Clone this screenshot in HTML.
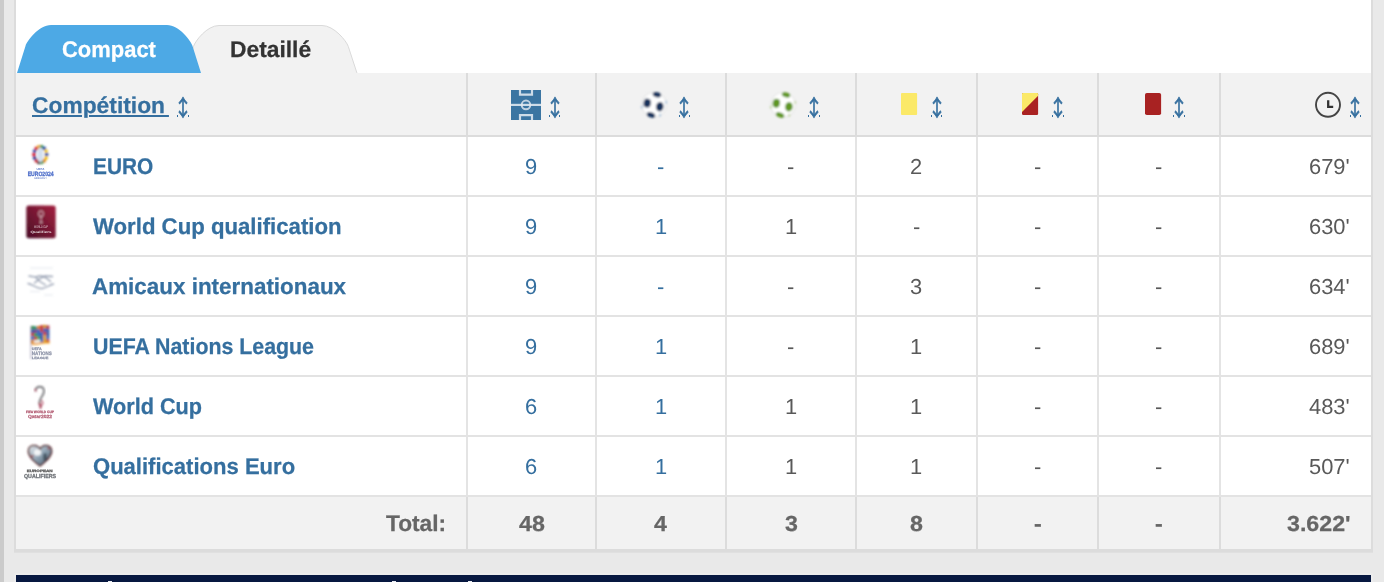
<!DOCTYPE html>
<html lang="fr"><head><meta charset="utf-8"><title>Bilan par compétition</title>
<style>
html,body{margin:0;padding:0}
body{width:1384px;height:582px;overflow:hidden;position:relative;background:#e9e9e9;font-family:"Liberation Sans",sans-serif;text-rendering:geometricPrecision;}
.abs{position:absolute}
.band{left:0;top:0;width:4px;height:582px;background:#cbcbcb}
.box{left:14px;top:-2px;width:1355px;height:549.2px;background:#fff;border:2px solid #dcdcdc;border-bottom-width:3px}
.bb{left:14px;top:552px;width:1359px;height:1px;background:#e0e0e0}
.mk{top:581px;height:1px;width:4px;background:#e8ebf2}
.thead{left:16px;top:73px;width:1355px;height:62px;background:#f2f2f2}
.tfoot{left:16px;top:497px;width:1355px;height:52.2px;background:#f2f2f2}
.vl{top:73px;width:2px;height:476.2px;background:#e4e4e4}
.vh{top:73px;width:2px;height:62px;background:#dcdcdc}
.vf{top:497px;width:2px;height:52.2px;background:#dcdcdc}
.hl{left:16px;width:1355px;height:2px;background:#e3e3e3}
.t{position:absolute;white-space:nowrap;line-height:1;transform-origin:0 0;text-decoration:none}
.b{font-weight:bold;-webkit-text-stroke:0.25px}
.lk{color:#356f9f}
.g5{color:#595959}
.g6{color:#666}
.ar{top:95.7px;font-size:22.5px;font-family:'Noto Sans CJK JP',sans-serif;-webkit-text-stroke:0.6px #356f9f}
.dot{top:115px;width:1.1px;height:2px;background:#356f9f}
.nav{left:16px;top:575px;width:1355px;height:7px;background:#071840}
.navb{left:14px;top:573.4px;width:1359px;height:9px;background:#ececec}
</style></head><body>
<div class="abs band"></div>
<div class="abs box"></div>

<svg class="abs" style="left:0;top:0" width="400" height="74" viewBox="0 0 400 74">
<path d="M185,73.500 L193.500,46.500 C195.200,41 207,25.500 219,25.500 L322,25.500 C334,25.500 346.500,41 348.300,46.500 L357.100,73.500 Z" fill="#f2f2f2" stroke="#dadada" stroke-width="1"/>
<path d="M17,73 L25.500,46 C27.200,40.500 39,25 51,25 L167,25 C179,25 190.800,40.500 192.500,46 L201,73 Z" fill="#4da9e5"/>
</svg>

<div class="abs thead"></div><div class="abs tfoot"></div>
<div class="abs vl" style="left:466px"></div><div class="abs vh" style="left:466px"></div><div class="abs vf" style="left:466px"></div>
<div class="abs vl" style="left:595px"></div><div class="abs vh" style="left:595px"></div><div class="abs vf" style="left:595px"></div>
<div class="abs vl" style="left:725px"></div><div class="abs vh" style="left:725px"></div><div class="abs vf" style="left:725px"></div>
<div class="abs vl" style="left:855px"></div><div class="abs vh" style="left:855px"></div><div class="abs vf" style="left:855px"></div>
<div class="abs vl" style="left:976px"></div><div class="abs vh" style="left:976px"></div><div class="abs vf" style="left:976px"></div>
<div class="abs vl" style="left:1097px"></div><div class="abs vh" style="left:1097px"></div><div class="abs vf" style="left:1097px"></div>
<div class="abs vl" style="left:1219px"></div><div class="abs vh" style="left:1219px"></div><div class="abs vf" style="left:1219px"></div>
<div class="abs hl" style="top:135px;background:#dcdcdc"></div>
<div class="abs hl" style="top:195px"></div>
<div class="abs hl" style="top:255px"></div>
<div class="abs hl" style="top:315px"></div>
<div class="abs hl" style="top:375px"></div>
<div class="abs hl" style="top:435px"></div>
<div class="abs hl" style="top:495px"></div>
<div class="abs bb"></div><div class="abs navb"></div><div class="abs nav"></div><i class="abs mk" style="left:108px"></i><i class="abs mk" style="left:392px"></i><i class="abs mk" style="left:467.500px"></i>
<svg class="abs" style="left:0;top:73px" width="1384" height="62" viewBox="0 73 1384 62">
<defs><filter id="bl" x="-20%" y="-20%" width="140%" height="140%"><feGaussianBlur stdDeviation="0.8"/></filter><filter id="bl2" x="-20%" y="-20%" width="140%" height="140%"><feGaussianBlur stdDeviation="0.35"/></filter></defs>
<g filter="url(#bl2)"><rect x="511" y="90" width="30" height="30" fill="#3a74a2"/><g fill="none" stroke="#e3eaf1" stroke-opacity=".88" stroke-width="2.2"><path d="M520,90 V94.700 H532 V90"/><path d="M520,120 V115.200 H532 V120"/><path d="M511,104.900 H541"/></g><circle cx="526" cy="104.900" r="4.300" fill="none" stroke="#e3eaf1" stroke-opacity=".8" stroke-width="2"/></g>
<g filter="url(#bl)"><circle cx="654" cy="104.7" r="12" fill="#fff"/><circle cx="654" cy="104.7" r="12.300" fill="none" stroke="#e6e6e6" stroke-width="1.200"/><ellipse cx="656.9" cy="94.8" rx="4.3" ry="2.5" fill="#14325c" transform="rotate(14 656.9 94.8)"/><ellipse cx="647.2" cy="103.1" rx="3.7" ry="4.5" fill="#14325c" transform="rotate(10 647.2 103.1)"/><ellipse cx="659.8" cy="106.7" rx="3.8" ry="4.7" fill="#14325c" transform="rotate(10 659.8 106.7)"/><ellipse cx="651.0" cy="114.9" rx="4.4" ry="2.5" fill="#14325c" transform="rotate(20 651.0 114.9)"/><ellipse cx="666.0" cy="102.2" rx="1" ry="1.600" fill="#8fb4d6" opacity=".8"/><ellipse cx="641.8" cy="107.1" rx="1" ry="1.600" fill="#8fb4d6" opacity=".8"/><ellipse cx="660.0" cy="115.2" rx="1" ry="1.600" fill="#8fb4d6" opacity=".8"/></g>
<g filter="url(#bl)"><circle cx="783.1" cy="104.8" r="12" fill="#fff"/><circle cx="783.1" cy="104.8" r="12.300" fill="none" stroke="#e6e6e6" stroke-width="1.200"/><ellipse cx="786.0" cy="94.9" rx="4.3" ry="2.5" fill="#5e9621" transform="rotate(14 786.0 94.9)"/><ellipse cx="776.3" cy="103.2" rx="3.7" ry="4.5" fill="#5e9621" transform="rotate(10 776.3 103.2)"/><ellipse cx="788.9" cy="106.8" rx="3.8" ry="4.7" fill="#5e9621" transform="rotate(10 788.9 106.8)"/><ellipse cx="780.1" cy="115.0" rx="4.4" ry="2.5" fill="#5e9621" transform="rotate(20 780.1 115.0)"/><ellipse cx="795.1" cy="102.3" rx="1" ry="1.600" fill="#b7cf8f" opacity=".8"/><ellipse cx="770.9" cy="107.2" rx="1" ry="1.600" fill="#b7cf8f" opacity=".8"/><ellipse cx="789.1" cy="115.3" rx="1" ry="1.600" fill="#b7cf8f" opacity=".8"/></g>
<g filter="url(#bl2)"><rect x="901" y="93" width="16.100" height="22" rx="1" fill="#fbe967"/>
<rect x="1022" y="93" width="16.100" height="22" rx="1.200" fill="#aa2424"/><path d="M1022,94 Q1022,93 1023,93 H1037.100 Q1038.100,93 1038.100,94 V95.700 L1022,111.900 Z" fill="#fbe967"/>
<rect x="1145" y="93" width="16.100" height="22" rx="1.800" fill="#a82224"/></g>
<g filter="url(#bl2)"><circle cx="1328" cy="104.800" r="12" fill="none" stroke="#444" stroke-width="1.900"/><path d="M1328.200,100.200 V106.900 H1333.200" fill="none" stroke="#333" stroke-width="2.300"/></g>
</svg>
<svg class="abs" style="left:16px;top:137px" width="60" height="360" viewBox="16 137 60 360">
<defs><filter id="lb" x="-20%" y="-20%" width="140%" height="140%"><feGaussianBlur stdDeviation="0.8"/></filter><filter id="lb2" x="-20%" y="-20%" width="140%" height="140%"><feGaussianBlur stdDeviation="0.5"/></filter><filter id="lb3" x="-20%" y="-20%" width="140%" height="140%"><feGaussianBlur stdDeviation="0.7"/></filter><linearGradient id="mar" x1="1" y1="0" x2="0" y2="1"><stop offset="0" stop-color="#a3213f"/><stop offset="1" stop-color="#4a0d26"/></linearGradient><linearGradient id="hg" x1="0" y1="0" x2="1" y2="1"><stop offset="0" stop-color="#e9edf0"/><stop offset=".5" stop-color="#8fa3b3"/><stop offset="1" stop-color="#3d4f5f"/></linearGradient></defs>
<g filter="url(#lb)">
<circle cx="46.6" cy="154.5" r="1.900" fill="#1d4fa8"/>
<circle cx="46.0" cy="157.9" r="1.900" fill="#f2c414"/>
<circle cx="44.2" cy="160.7" r="1.900" fill="#e58a1c"/>
<circle cx="41.7" cy="162.2" r="1.900" fill="#2f8f3a"/>
<circle cx="38.9" cy="162.2" r="1.900" fill="#111111"/>
<circle cx="36.4" cy="160.7" r="1.900" fill="#c8202a"/>
<circle cx="34.6" cy="157.9" r="1.900" fill="#1b3f98"/>
<circle cx="34.0" cy="154.5" r="1.900" fill="#d8232a"/>
<circle cx="34.6" cy="151.1" r="1.900" fill="#1d4fa8"/>
<circle cx="36.4" cy="148.3" r="1.900" fill="#d8232a"/>
<circle cx="38.9" cy="146.8" r="1.900" fill="#e9a21c"/>
<circle cx="41.7" cy="146.8" r="1.900" fill="#2a8a3c"/>
<circle cx="44.2" cy="148.3" r="1.900" fill="#1d4fa8"/>
<circle cx="46.0" cy="151.1" r="1.900" fill="#f2c414"/>
<ellipse cx="40.3" cy="154.8" rx="3.100" ry="7.600" fill="#d3dfef"/>
</g>
<g filter="url(#lb3)" font-family="Liberation Sans, sans-serif" font-weight="bold" text-anchor="middle">
<text x="40.400" y="169.600" font-size="2.800" fill="#5b78c8" textLength="8" lengthAdjust="spacingAndGlyphs">UEFA</text>
<text x="40.700" y="175.700" font-size="6.200" fill="#4f6fca" stroke="#4f6fca" stroke-width=".3" textLength="26" lengthAdjust="spacingAndGlyphs">EURO2024</text>
<text x="40.400" y="178.500" font-size="2.400" fill="#7f95d3" textLength="13" lengthAdjust="spacingAndGlyphs">GERMANY</text>
</g>
<g filter="url(#lb)"><rect x="26.300" y="205.400" width="29.400" height="32.800" rx="2.500" fill="url(#mar)"/>
<ellipse cx="41" cy="213.800" rx="2.300" ry="3" fill="none" stroke="#f6e6ea" stroke-width="1" stroke-opacity=".8"/><path d="M41,216.800 V222.500 M39.600,222.600 H42.600" fill="none" stroke="#f6e6ea" stroke-width="1.100" stroke-opacity=".7"/>
</g>
<g filter="url(#lb2)" font-family="Liberation Sans, sans-serif" font-weight="bold" text-anchor="middle" fill="#fff">
<text x="41" y="228.200" font-size="3.800" fill-opacity=".55" textLength="14" lengthAdjust="spacingAndGlyphs">WORLD CUP</text>
<text x="41" y="233.300" font-size="3.200" fill-opacity=".8" textLength="21" lengthAdjust="spacingAndGlyphs">Qualifiers</text>
</g>
<g filter="url(#lb)" fill="none" stroke="#858fa5" stroke-width="1.300" stroke-opacity=".85" stroke-linecap="round">
<path d="M29,276 L35.500,277 L40,281.500 L45.500,285"/><path d="M52.500,276.500 L45,276 L38.500,279.500 L34.500,283"/><path d="M28,283.500 C33,284.500 37,289 42,288.500 C46.500,288 49,285 53.500,284"/><path d="M36,277 C40,275 45.500,276.500 50.500,281.500"/>
</g>
<g filter="url(#lb)" fill="none" stroke="#c9cfdb" stroke-width="1" stroke-opacity=".5"><path d="M30,268 H53 M30,291.500 H40 M44,295 H53"/></g>
<g filter="url(#lb)">
<rect x="31.0" y="325.9" width="3.200" height="3.600" fill="#3f8f4f"/>
<rect x="34.0" y="326.3" width="3.200" height="3.600" fill="#2f8f7a"/>
<rect x="37.1" y="325.9" width="3.200" height="3.600" fill="#d9772c"/>
<rect x="40.1" y="325.2" width="3.200" height="3.600" fill="#c8373a"/>
<rect x="43.2" y="324.9" width="3.200" height="3.600" fill="#d4902a"/>
<rect x="46.2" y="325.4" width="3.200" height="3.600" fill="#b8424a"/>
<rect x="31.0" y="329.4" width="3.200" height="3.600" fill="#3558a8"/>
<rect x="34.0" y="329.7" width="3.200" height="3.600" fill="#7a3f98"/>
<rect x="37.1" y="329.3" width="3.200" height="3.600" fill="#2f62b8"/>
<rect x="40.1" y="328.6" width="3.200" height="3.600" fill="#c23b3b"/>
<rect x="43.2" y="328.4" width="3.200" height="3.600" fill="#4a57b0"/>
<rect x="46.2" y="328.9" width="3.200" height="3.600" fill="#2f5fb2"/>
<rect x="31.0" y="332.8" width="3.200" height="3.600" fill="#c23b3b"/>
<rect x="34.0" y="333.2" width="3.200" height="3.600" fill="#2f9a57"/>
<rect x="37.1" y="332.8" width="3.200" height="3.600" fill="#3366b5"/>
<rect x="40.1" y="332.1" width="3.200" height="3.600" fill="#2f62b8"/>
<rect x="43.2" y="331.8" width="3.200" height="3.600" fill="#c9403f"/>
<rect x="46.2" y="332.3" width="3.200" height="3.600" fill="#39569f"/>
<rect x="31.0" y="336.3" width="3.200" height="3.600" fill="#3b6dc0"/>
<rect x="34.0" y="336.6" width="3.200" height="3.600" fill="#c5503a"/>
<rect x="37.1" y="336.2" width="3.200" height="3.600" fill="#3f9f5a"/>
<rect x="40.1" y="335.5" width="3.200" height="3.600" fill="#3558a8"/>
<rect x="43.2" y="335.3" width="3.200" height="3.600" fill="#d9a02c"/>
<rect x="46.2" y="335.8" width="3.200" height="3.600" fill="#3b6dc0"/>
<rect x="31.0" y="339.7" width="3.200" height="3.600" fill="#e08a2a"/>
<rect x="34.0" y="340.1" width="3.200" height="3.600" fill="#e9e4dc"/>
<rect x="37.1" y="339.7" width="3.200" height="3.600" fill="#f0ede8"/>
<rect x="40.1" y="339.0" width="3.200" height="3.600" fill="#3b6dc0"/>
<rect x="43.2" y="338.7" width="3.200" height="3.600" fill="#d9a02c"/>
<rect x="46.2" y="339.2" width="3.200" height="3.600" fill="#c5503a"/>
<path d="M31,342.500 C36,345 42,340.500 49.500,342 L49.500,343.800 C42,342.500 36,346.500 31,344.300 Z" fill="#f0a028"/>
<rect x="30.200" y="326" width="1.300" height="33" fill="#8a86a8" fill-opacity=".6"/>
</g>
<g filter="url(#lb3)" opacity=".8" font-family="Liberation Sans, sans-serif" font-weight="bold" fill="#6f7791" stroke="#6f7791" stroke-width=".25">
<text x="31.800" y="349.600" font-size="3.600" textLength="10" lengthAdjust="spacingAndGlyphs">UEFA</text>
<text x="31.800" y="354.800" font-size="5" textLength="20" lengthAdjust="spacingAndGlyphs">NATIONS</text>
<text x="31.800" y="358.600" font-size="3.200" textLength="16.500" lengthAdjust="spacingAndGlyphs">LEAGUE</text>
</g>
<g filter="url(#lb)" fill="none" stroke-linecap="round">
<path d="M35.500,390.500 C36,386 43.500,385 44,391 C44.300,395.500 38.500,398.500 39.500,403.500" stroke="#7d7d80" stroke-width="1.900"/>
<path d="M39.500,403.500 C40,405.500 41,406.500 40.500,408" stroke="#9b2743" stroke-width="1.800"/>
<path d="M41.500,400.500 C43.500,402 43,405 41,406" stroke="#b5546b" stroke-width="1.200"/>
<path d="M35,389.500 L36,391" stroke="#b5546b" stroke-width="1.400"/>
</g>
<g filter="url(#lb3)" opacity=".8" font-family="Liberation Sans, sans-serif" font-weight="bold" text-anchor="middle" fill="#9a2846" stroke="#9a2846" stroke-width=".25">
<text x="40" y="413.400" font-size="3.400" textLength="28" lengthAdjust="spacingAndGlyphs">FIFA WORLD CUP</text>
<text x="40" y="417.800" font-size="4.600" textLength="24" lengthAdjust="spacingAndGlyphs" fill-opacity=".85">Qatar2022</text>
</g>
<g filter="url(#lb)">
<path d="M40,466 C33,460.500 27.500,455.500 28.500,450 C29.500,444.500 37,444 40,449 C43,444 50.500,444.500 51.500,450 C52.500,455.500 47,460.500 40,466 Z" fill="url(#hg)" stroke="#5a2c2e" stroke-width="1.500"/>
<ellipse cx="37.500" cy="452.500" rx="3.600" ry="3.200" fill="#fff" fill-opacity=".85"/>
<ellipse cx="45" cy="457" rx="2" ry="4" fill="#33414f" fill-opacity=".7"/>
<circle cx="32.500" cy="456" r="1.100" fill="#a33"/><circle cx="48.500" cy="448.500" r="1" fill="#a33"/>
</g>
<g filter="url(#lb3)" opacity=".85" font-family="Liberation Sans, sans-serif" font-weight="bold" text-anchor="middle">
<text x="39.700" y="471.500" font-size="3.400" fill="#444" stroke="#444" stroke-width=".3" textLength="26" lengthAdjust="spacingAndGlyphs">EUROPEAN</text>
<text x="40" y="477.800" font-size="5.800" fill="#5c6066" stroke="#5c6066" stroke-width=".35" textLength="32" lengthAdjust="spacingAndGlyphs">QUALIFIERS</text>
</g>
</svg>
<nav class="tabs"><a class="t b" style="left:62.08px;top:37.78px;font-size:22.7px;color:#fff;transform:scaleX(0.9676);">Compact</a><a class="t b" style="left:230.19px;top:37.78px;font-size:22.7px;color:#333;transform:scaleX(1.0048);">Detaillé</a></nav>
<div role="table">
<div role="row" class="head"><a class="t b lk" style="left:31.80px;top:94.18px;font-size:22.7px;transform:scaleX(1.0051);word-spacing:-2.4px;text-decoration:underline;text-decoration-thickness:2.1px;text-underline-offset:2.3px;text-decoration-skip-ink:auto;">Compétition&nbsp;</a><a class="t lk ar" style="left:173.90px;transform:scaleX(0.8000)">↕</a><i class="abs dot" style="left:177.2px"></i><i class="abs dot" style="left:187.6px"></i><a class="t lk ar" style="left:545.50px;transform:scaleX(0.8000)">↕</a><i class="abs dot" style="left:548.8px"></i><i class="abs dot" style="left:559.2px"></i><a class="t lk ar" style="left:675.40px;transform:scaleX(0.8000)">↕</a><i class="abs dot" style="left:678.7px"></i><i class="abs dot" style="left:689.1px"></i><a class="t lk ar" style="left:805.10px;transform:scaleX(0.8000)">↕</a><i class="abs dot" style="left:808.4px"></i><i class="abs dot" style="left:818.8px"></i><a class="t lk ar" style="left:927.50px;transform:scaleX(0.8000)">↕</a><i class="abs dot" style="left:930.8px"></i><i class="abs dot" style="left:941.2px"></i><a class="t lk ar" style="left:1048.80px;transform:scaleX(0.8000)">↕</a><i class="abs dot" style="left:1052.1px"></i><i class="abs dot" style="left:1062.5px"></i><a class="t lk ar" style="left:1170.10px;transform:scaleX(0.8000)">↕</a><i class="abs dot" style="left:1173.4px"></i><i class="abs dot" style="left:1183.8px"></i><a class="t lk ar" style="left:1346.20px;transform:scaleX(0.8000)">↕</a><i class="abs dot" style="left:1349.5px"></i><i class="abs dot" style="left:1359.9px"></i></div>
<div role="row"><a class="t b lk" style="left:93.12px;top:154.68px;font-size:22.7px;transform:scaleX(0.9189);">EURO</a><a class="t lk" style="left:525.39px;top:155.53px;font-size:21.7px;transform:scaleX(1.0100);">9</a><a class="t lk" style="left:657.36px;top:155.53px;font-size:21.7px;transform:scaleX(1.0100);">-</a><span class="t g5" style="left:787.36px;top:155.53px;font-size:21.7px;transform:scaleX(1.0100);">-</span><span class="t g5" style="left:910.44px;top:155.53px;font-size:21.7px;transform:scaleX(1.0100);">2</span><span class="t g5" style="left:1033.86px;top:155.53px;font-size:21.7px;transform:scaleX(1.0100);">-</span><span class="t g5" style="left:1154.86px;top:155.53px;font-size:21.7px;transform:scaleX(1.0100);">-</span><span class="t g5" style="left:1309.30px;top:155.53px;font-size:21.7px;transform:scaleX(1.0100);">679'</span></div>
<div role="row"><a class="t b lk" style="left:93.20px;top:214.68px;font-size:22.7px;transform:scaleX(0.9781);">World Cup qualification</a><a class="t lk" style="left:525.39px;top:215.53px;font-size:21.7px;transform:scaleX(1.0100);">9</a><a class="t lk" style="left:654.59px;top:215.53px;font-size:21.7px;transform:scaleX(1.0100);">1</a><span class="t g5" style="left:784.59px;top:215.53px;font-size:21.7px;transform:scaleX(1.0100);">1</span><span class="t g5" style="left:912.86px;top:215.53px;font-size:21.7px;transform:scaleX(1.0100);">-</span><span class="t g5" style="left:1033.86px;top:215.53px;font-size:21.7px;transform:scaleX(1.0100);">-</span><span class="t g5" style="left:1154.86px;top:215.53px;font-size:21.7px;transform:scaleX(1.0100);">-</span><span class="t g5" style="left:1309.30px;top:215.53px;font-size:21.7px;transform:scaleX(1.0100);">630'</span></div>
<div role="row"><a class="t b lk" style="left:92.31px;top:274.68px;font-size:22.7px;transform:scaleX(0.9879);">Amicaux internationaux</a><a class="t lk" style="left:525.39px;top:275.53px;font-size:21.7px;transform:scaleX(1.0100);">9</a><a class="t lk" style="left:657.36px;top:275.53px;font-size:21.7px;transform:scaleX(1.0100);">-</a><span class="t g5" style="left:787.36px;top:275.53px;font-size:21.7px;transform:scaleX(1.0100);">-</span><span class="t g5" style="left:910.44px;top:275.53px;font-size:21.7px;transform:scaleX(1.0100);">3</span><span class="t g5" style="left:1033.86px;top:275.53px;font-size:21.7px;transform:scaleX(1.0100);">-</span><span class="t g5" style="left:1154.86px;top:275.53px;font-size:21.7px;transform:scaleX(1.0100);">-</span><span class="t g5" style="left:1309.30px;top:275.53px;font-size:21.7px;transform:scaleX(1.0100);">634'</span></div>
<div role="row"><a class="t b lk" style="left:92.98px;top:334.68px;font-size:22.7px;transform:scaleX(0.9408);">UEFA Nations League</a><a class="t lk" style="left:525.39px;top:335.53px;font-size:21.7px;transform:scaleX(1.0100);">9</a><a class="t lk" style="left:654.59px;top:335.53px;font-size:21.7px;transform:scaleX(1.0100);">1</a><span class="t g5" style="left:787.36px;top:335.53px;font-size:21.7px;transform:scaleX(1.0100);">-</span><span class="t g5" style="left:910.09px;top:335.53px;font-size:21.7px;transform:scaleX(1.0100);">1</span><span class="t g5" style="left:1033.86px;top:335.53px;font-size:21.7px;transform:scaleX(1.0100);">-</span><span class="t g5" style="left:1154.86px;top:335.53px;font-size:21.7px;transform:scaleX(1.0100);">-</span><span class="t g5" style="left:1309.30px;top:335.53px;font-size:21.7px;transform:scaleX(1.0100);">689'</span></div>
<div role="row"><a class="t b lk" style="left:93.20px;top:394.68px;font-size:22.7px;transform:scaleX(0.9546);">World Cup</a><a class="t lk" style="left:525.29px;top:395.53px;font-size:21.7px;transform:scaleX(1.0100);">6</a><a class="t lk" style="left:654.59px;top:395.53px;font-size:21.7px;transform:scaleX(1.0100);">1</a><span class="t g5" style="left:784.59px;top:395.53px;font-size:21.7px;transform:scaleX(1.0100);">1</span><span class="t g5" style="left:910.09px;top:395.53px;font-size:21.7px;transform:scaleX(1.0100);">1</span><span class="t g5" style="left:1033.86px;top:395.53px;font-size:21.7px;transform:scaleX(1.0100);">-</span><span class="t g5" style="left:1154.86px;top:395.53px;font-size:21.7px;transform:scaleX(1.0100);">-</span><span class="t g5" style="left:1309.30px;top:395.53px;font-size:21.7px;transform:scaleX(1.0100);">483'</span></div>
<div role="row"><a class="t b lk" style="left:92.93px;top:454.68px;font-size:22.7px;transform:scaleX(0.9717);">Qualifications Euro</a><a class="t lk" style="left:525.29px;top:455.53px;font-size:21.7px;transform:scaleX(1.0100);">6</a><a class="t lk" style="left:654.59px;top:455.53px;font-size:21.7px;transform:scaleX(1.0100);">1</a><span class="t g5" style="left:784.59px;top:455.53px;font-size:21.7px;transform:scaleX(1.0100);">1</span><span class="t g5" style="left:910.09px;top:455.53px;font-size:21.7px;transform:scaleX(1.0100);">1</span><span class="t g5" style="left:1033.86px;top:455.53px;font-size:21.7px;transform:scaleX(1.0100);">-</span><span class="t g5" style="left:1154.86px;top:455.53px;font-size:21.7px;transform:scaleX(1.0100);">-</span><span class="t g5" style="left:1309.30px;top:455.53px;font-size:21.7px;transform:scaleX(1.0100);">507'</span></div>
<div role="row" class="foot"><span class="t b g6" style="left:386.30px;top:512.18px;font-size:22.7px;transform:scaleX(1.0011);">Total:</span><span class="t b g6" style="left:518.73px;top:513.03px;font-size:21.7px;transform:scaleX(1.0700);">48</span><span class="t b g6" style="left:654.42px;top:513.03px;font-size:21.7px;transform:scaleX(1.0700);">4</span><span class="t b g6" style="left:784.74px;top:513.03px;font-size:21.7px;transform:scaleX(1.0700);">3</span><span class="t b g6" style="left:910.03px;top:513.03px;font-size:21.7px;transform:scaleX(1.0700);">8</span><span class="t b g6" style="left:1033.65px;top:513.03px;font-size:21.7px;transform:scaleX(1.0700);">-</span><span class="t b g6" style="left:1154.65px;top:513.03px;font-size:21.7px;transform:scaleX(1.0700);">-</span><span class="t b g6" style="left:1286.61px;top:513.03px;font-size:21.7px;transform:scaleX(1.0700);">3.622'</span></div>
</div>
</body></html>
